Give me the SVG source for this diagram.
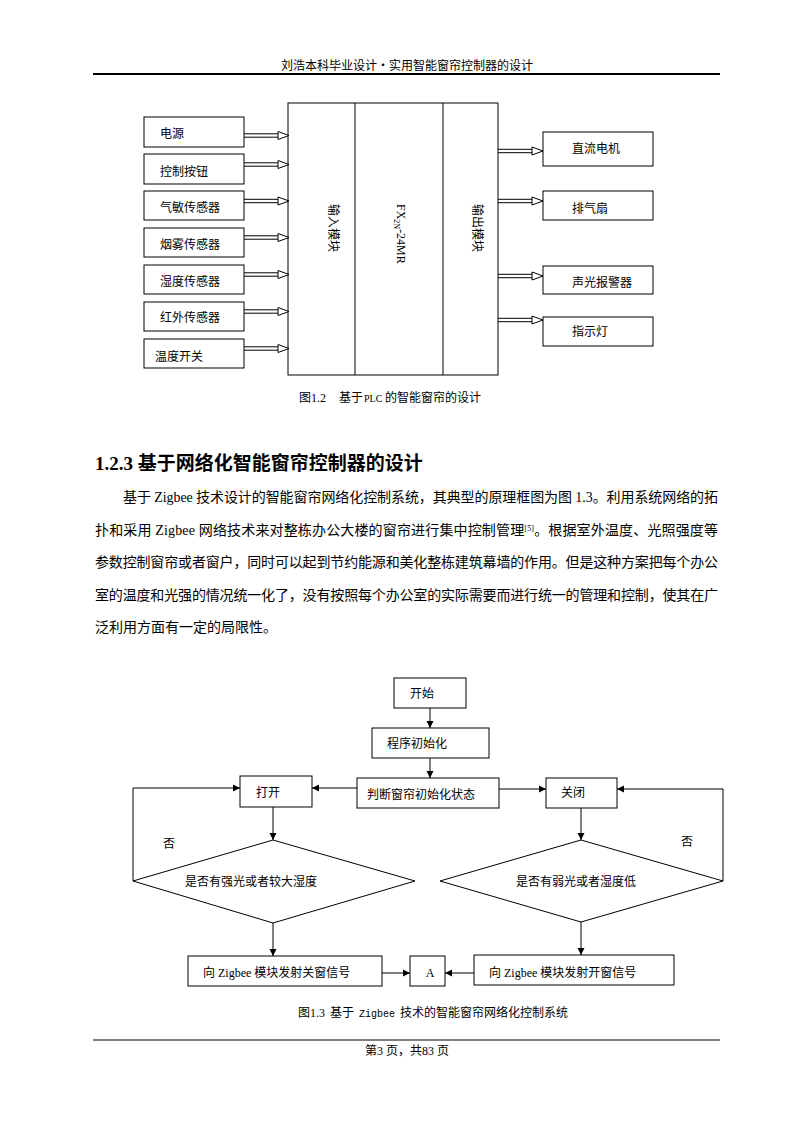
<svg xmlns="http://www.w3.org/2000/svg" xmlns:xlink="http://www.w3.org/1999/xlink" width="794" height="1123" viewBox="0 0 794 1123">
<style>
.t{font-family:"Liberation Serif","Noto Sans CJK SC",serif;font-size:12px;fill:#000}
.p{font-size:14px}
.h{font-size:19px;font-weight:bold}
.b{fill:#fff;stroke:#000;stroke-width:1}
.ln{stroke:#000;stroke-width:1;fill:none}
.m{font-family:"Liberation Mono","Noto Sans CJK SC",monospace;font-size:10px}
</style>
<defs>
<g id="dbl">
<path d="M0,-1.7H34M0,1.7H34" stroke="#000" stroke-width="1" fill="none"/>
<path d="M34,-4L45,0L34,4Z" fill="#fff" stroke="#000" stroke-width="1"/>
</g>
<marker id="ah" markerWidth="8" markerHeight="8" refX="7" refY="4" orient="auto" markerUnits="userSpaceOnUse">
<path d="M0,0.5L7,4L0,7.5Z" fill="#000"/>
</marker>
</defs>
<rect width="794" height="1123" fill="#fff"/>

<!-- header -->
<text class="t" x="407" y="70" text-anchor="middle">刘浩本科毕业设计・实用智能窗帘控制器的设计</text>
<line x1="93" y1="74" x2="720" y2="74" stroke="#000" stroke-width="2"/>

<!-- Figure 1.2 -->
<g id="plc">
<rect class="b" x="288" y="103" width="210" height="272" stroke-width="1.3"/>
<line class="ln" x1="355" y1="103" x2="355" y2="375"/>
<line class="ln" x1="443" y1="103" x2="443" y2="375"/>
<text class="t" transform="translate(333,204) rotate(90)" dominant-baseline="central">输入模块</text>
<text class="t" transform="translate(401,204) rotate(90)" dominant-baseline="central" font-size="13">FX<tspan font-size="8" baseline-shift="sub">2N</tspan>-24MR</text>
<text class="t" transform="translate(477,204) rotate(90)" dominant-baseline="central">输出模块</text>
</g>
<g id="in1"><rect class="b" x="144" y="117" width="100" height="30"/><text class="t" x="160" y="138">电源</text></g>
<g id="in2"><rect class="b" x="144" y="154" width="100" height="30"/><text class="t" x="160" y="176">控制按钮</text></g>
<g id="in3"><rect class="b" x="144" y="191" width="100" height="29"/><text class="t" x="160" y="212">气敏传感器</text></g>
<g id="in4"><rect class="b" x="144" y="228" width="100" height="29"/><text class="t" x="160" y="249">烟雾传感器</text></g>
<g id="in5"><rect class="b" x="144" y="265" width="100" height="29"/><text class="t" x="160" y="286">湿度传感器</text></g>
<g id="in6"><rect class="b" x="144" y="302" width="100" height="29"/><text class="t" x="160" y="322">红外传感器</text></g>
<g id="in7"><rect class="b" x="144" y="339" width="100" height="29"/><text class="t" x="155" y="361">温度开关</text></g>
<g id="out1"><rect class="b" x="543" y="132" width="110" height="34"/><text class="t" x="572" y="153">直流电机</text></g>
<g id="out2"><rect class="b" x="543" y="191" width="110" height="29"/><text class="t" x="572" y="213">排气扇</text></g>
<g id="out3"><rect class="b" x="543" y="266" width="110" height="28"/><text class="t" x="572" y="287">声光报警器</text></g>
<g id="out4"><rect class="b" x="543" y="317" width="110" height="29"/><text class="t" x="572" y="336">指示灯</text></g>
<g id="plc-connectors">
<use xlink:href="#dbl" transform="translate(244,135.5)"/>
<use xlink:href="#dbl" transform="translate(244,164.5)"/>
<use xlink:href="#dbl" transform="translate(244,201)"/>
<use xlink:href="#dbl" transform="translate(244,237.5)"/>
<use xlink:href="#dbl" transform="translate(244,274.5)"/>
<use xlink:href="#dbl" transform="translate(244,311.5)"/>
<use xlink:href="#dbl" transform="translate(244,348.5)"/>
<use xlink:href="#dbl" transform="translate(498,151)"/>
<use xlink:href="#dbl" transform="translate(498,201)"/>
<use xlink:href="#dbl" transform="translate(498,276)"/>
<use xlink:href="#dbl" transform="translate(498,320)"/>
</g>
<text class="t" y="402"><tspan x="299">图1.2</tspan><tspan x="339">基于</tspan><tspan x="364" font-size="10">PLC</tspan><tspan x="385">的智能窗帘的设计</tspan></text>

<!-- heading and paragraph -->
<text class="t h" x="95" y="470">1.2.3 基于网络化智能窗帘控制器的设计</text>
<text class="t p" x="123" y="502" textLength="595" lengthAdjust="spacing">基于 Zigbee 技术设计的智能窗帘网络化控制系统，其典型的原理框图为图 1.3。利用系统网络的拓</text>
<text class="t p" x="95" y="535" textLength="623" lengthAdjust="spacing">扑和采用 Zigbee 网络技术来对整栋办公大楼的窗帘进行集中控制管理<tspan font-size="8" baseline-shift="super">[5]</tspan>。根据室外温度、光照强度等</text>
<text class="t p" x="95" y="567" textLength="623" lengthAdjust="spacing">参数控制窗帘或者窗户，同时可以起到节约能源和美化整栋建筑幕墙的作用。但是这种方案把每个办公</text>
<text class="t p" x="95" y="600" textLength="623" lengthAdjust="spacing">室的温度和光强的情况统一化了，没有按照每个办公室的实际需要而进行统一的管理和控制，使其在广</text>
<text class="t p" x="95" y="632">泛利用方面有一定的局限性。</text>

<!-- Figure 1.3 flowchart -->
<g id="start"><rect class="b" x="394" y="678" width="72" height="30"/><text class="t" x="410" y="698">开始</text></g>
<g id="init"><rect class="b" x="372" y="728" width="117" height="30"/><text class="t" x="387" y="748">程序初始化</text></g>
<g id="judge"><rect class="b" x="357" y="778" width="142" height="30"/><text class="t" x="367" y="799">判断窗帘初始化状态</text></g>
<g id="open"><rect class="b" x="240" y="776" width="72" height="31"/><text class="t" x="256" y="797">打开</text></g>
<g id="close"><rect class="b" x="546" y="778" width="71" height="30"/><text class="t" x="561" y="797">关闭</text></g>
<g id="d1"><path class="b" d="M273,840L415,881L273,923L133,881Z"/><text class="t" x="185" y="886">是否有强光或者较大湿度</text></g>
<g id="d2"><path class="b" d="M581,840L723,881L581,922L440,881Z"/><text class="t" x="516" y="886">是否有弱光或者湿度低</text></g>
<g id="sendclose"><rect class="b" x="188" y="956" width="194" height="30"/><text class="t" x="203" y="977">向 Zigbee 模块发射关窗信号</text></g>
<g id="A"><rect class="b" x="410" y="956" width="35" height="30"/><text class="t" x="430" y="977" text-anchor="middle">A</text></g>
<g id="sendopen"><rect class="b" x="474" y="955" width="200" height="30"/><text class="t" x="489" y="977">向 Zigbee 模块发射开窗信号</text></g>
<g id="flow-connectors">
<path class="ln" d="M430,708V728" marker-end="url(#ah)"/>
<path class="ln" d="M430,758V778" marker-end="url(#ah)"/>
<path class="ln" d="M357,788H312" marker-end="url(#ah)"/>
<path class="ln" d="M499,789H546" marker-end="url(#ah)"/>
<path class="ln" d="M273,807V840" marker-end="url(#ah)"/>
<path class="ln" d="M581,808V840" marker-end="url(#ah)"/>
<path class="ln" d="M133,881V788H240" marker-end="url(#ah)"/>
<path class="ln" d="M723,881V789H617" marker-end="url(#ah)"/>
<path class="ln" d="M273,923V956" marker-end="url(#ah)"/>
<path class="ln" d="M581,922V955" marker-end="url(#ah)"/>
<path class="ln" d="M382,973H410" marker-end="url(#ah)"/>
<path class="ln" d="M474,973H445" marker-end="url(#ah)"/>
<text class="t" x="163" y="848">否</text>
<text class="t" x="681" y="846">否</text>
</g>
<text class="t" y="1017"><tspan x="298">图1.3</tspan><tspan x="330">基于</tspan><tspan class="m" x="359">Zigbee</tspan><tspan x="400">技术的智能窗帘网络化控制系统</tspan></text>

<!-- footer -->
<line x1="93" y1="1040" x2="720" y2="1040" stroke="#000" stroke-width="1"/>
<text class="t" x="407" y="1055" text-anchor="middle">第3 页，共83 页</text>
</svg>
